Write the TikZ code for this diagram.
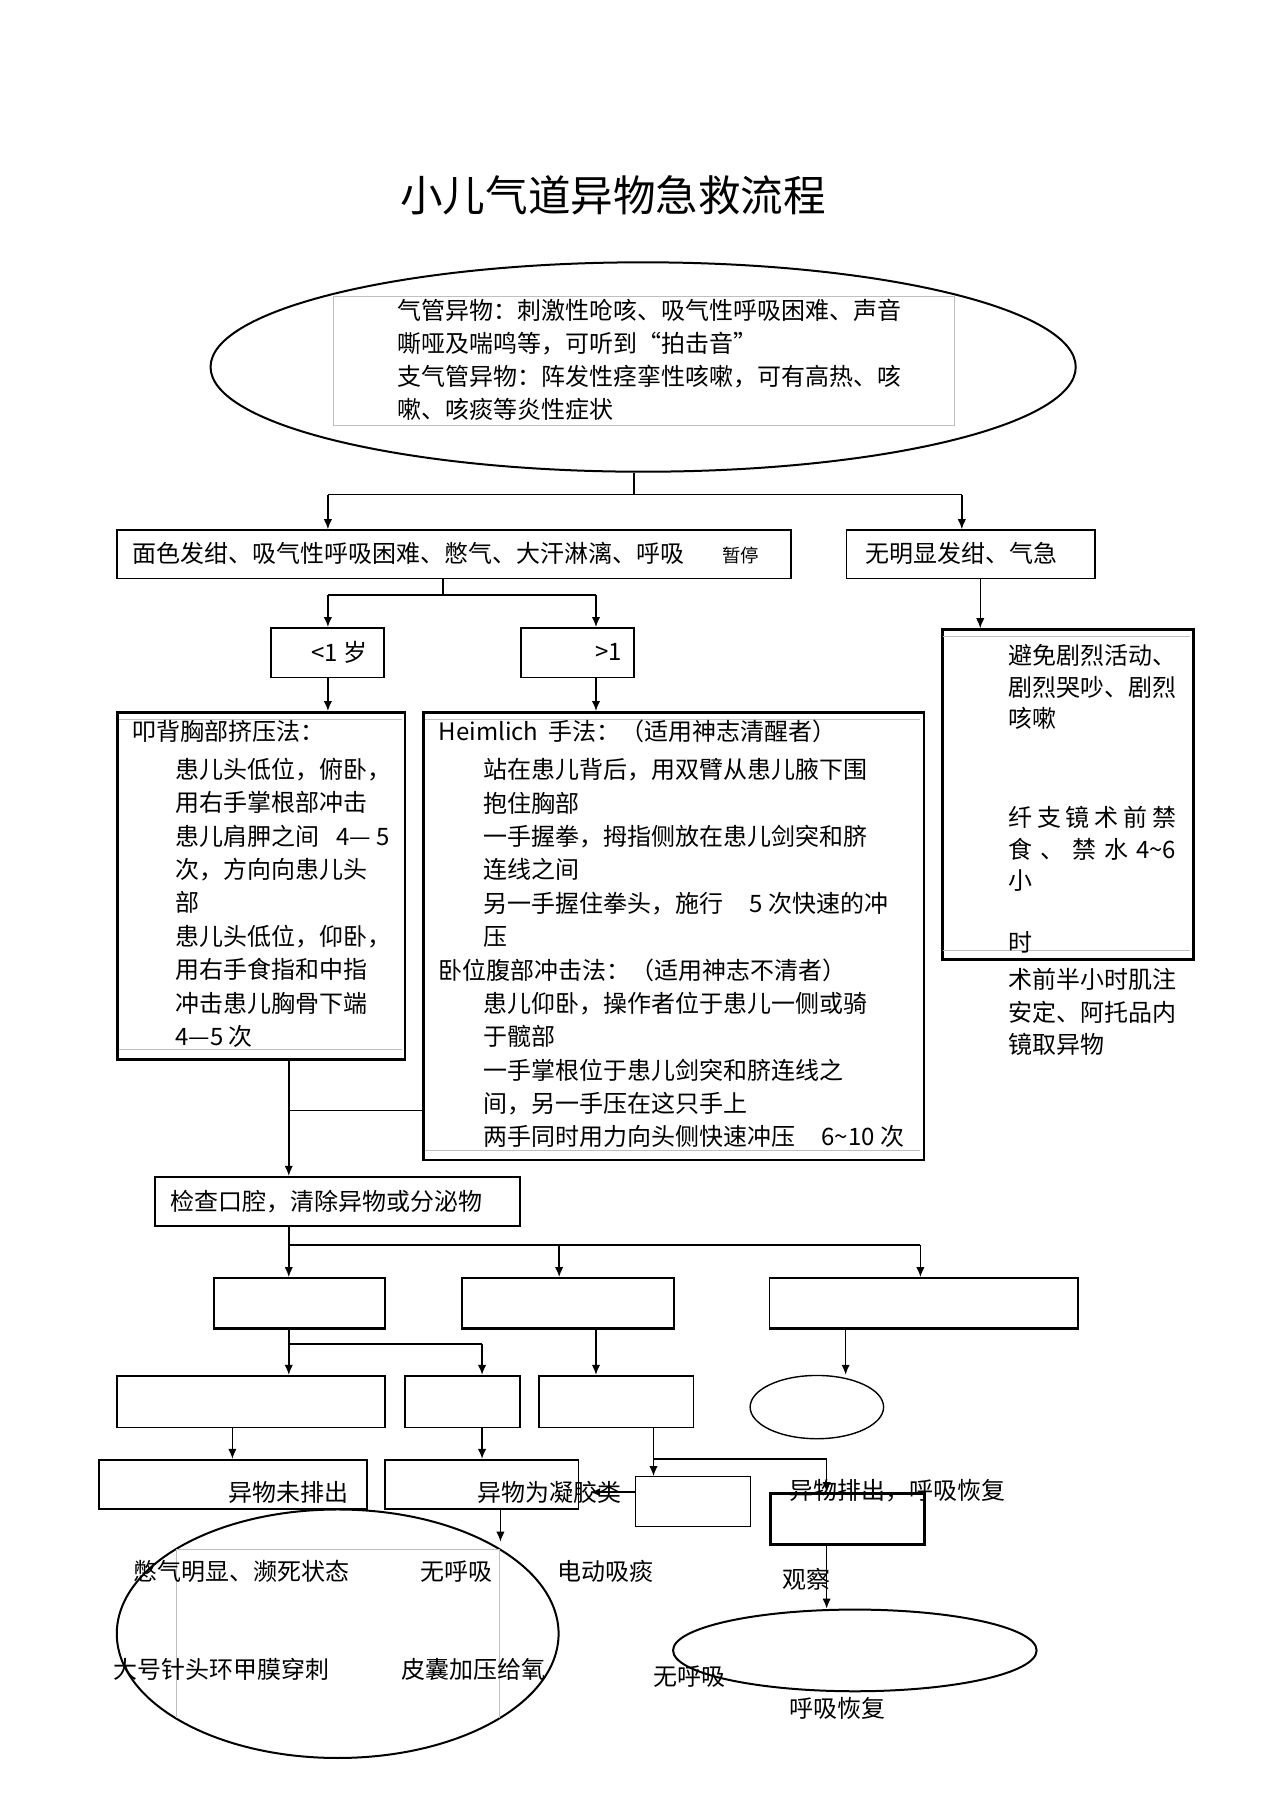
\documentclass[tikz,border=0pt]{standalone}
\usepackage{fontspec}
\setmainfont{Noto Sans CJK SC}
\usetikzlibrary{shapes.geometric,arrows.meta}
\newlength{\upx}
\setlength{\upx}{0.5755pt}

\tikzset{
  box/.style 2 args={draw, line width=0.9pt, inner sep=0, anchor=north west,
    minimum width=#1\upx, minimum height=#2\upx},
  heavy/.style={line width=1.3pt},
  txt/.style={inner sep=0, anchor=west, font=\fontsize{12}{16.7}\selectfont},
  para/.style={txt, anchor=north west, align=left},
  arr/.style={-{Latex[length=5pt,width=4.2pt]}, line width=0.75pt},
  ln/.style={line width=0.75pt},
  faint/.style={draw=black!25, line width=0.5pt},
  oval/.style={draw, ellipse, inner sep=0, line width=1pt},
}

\begin{document}
\begin{tikzpicture}[x=\upx, y=-\upx]
\useasboundingbox (0,0) rectangle (1107,1568);

% title
\node[font=\fontsize{21.3}{25}\selectfont] (title) at (533,170) {小儿气道异物急救流程};

% symptoms
\node[oval, minimum width=752\upx, minimum height=182\upx] (sympt) at (559,319) {};
\draw[faint] (290,258) rectangle (830,370);
\node[para, font=\fontsize{12}{16.5}\selectfont] (symtxt) at (345,259.6)
  {气管异物：刺激性呛咳、吸气性呼吸困难、声音\\
   嘶哑及喘鸣等，可听到“拍击音”\\
   支气管异物：阵发性痉挛性咳嗽，可有高热、咳\\
   嗽、咳痰等炎性症状};

% first level
\node[box={586}{42}] (cyan) at (101,460) {};
\node[txt] (cyantxt) at (115,481)
  {面色发绀、吸气性呼吸困难、憋气、大汗淋漓、呼吸\hspace{19pt}{\fontsize{9.2}{10}\selectfont 暂停}};
\node[box={216}{42}] (mild) at (735,460) {};
\node[txt] (mildtxt) at (752,481) {无明显发绀、气急};

% age
\node[box={98}{43}] (age1) at (235,545) {};
\node[txt] (age1txt) at (270,567) {<1 岁};
\node[box={98}{43}] (age2) at (452,545) {};
\node[txt] (age2txt) at (517,567) {>1};

% methods
\node[box={250}{302}, heavy] (infant) at (101,618) {};
\draw[faint] (103,625) -- (349,625) (103,912) -- (349,912);
\node[para] (infanttxt) at (115,625.6)
  {叩背胸部挤压法：\\[2.3pt]
   \hspace*{21.3pt}患儿头低位，俯卧，\\
   \hspace*{21.3pt}用右手掌根部冲击\\
   \hspace*{21.3pt}患儿肩胛之间\hspace{8.6pt}4— 5\\
   \hspace*{21.3pt}次，方向向患儿头\\
   \hspace*{21.3pt}部\\
   \hspace*{21.3pt}患儿头低位，仰卧，\\
   \hspace*{21.3pt}用右手食指和中指\\
   \hspace*{21.3pt}冲击患儿胸骨下端\\
   \hspace*{21.3pt}4—5 次};

\node[box={435}{389}, heavy] (heim) at (367,618) {};
\draw[faint] (369,625) -- (800,625) (369,1000) -- (800,1000);
\node[para] (heimtxt) at (381,625.6)
  {Heimlich\hspace{5pt}手法：（适用神志清醒者）\\[2.3pt]
   \hspace*{22.4pt}站在患儿背后，用双臂从患儿腋下围\\
   \hspace*{22.4pt}抱住胸部\\
   \hspace*{22.4pt}一手握拳，拇指侧放在患儿剑突和脐\\
   \hspace*{22.4pt}连线之间\\
   \hspace*{22.4pt}另一手握住拳头，施行\hspace{13pt}5 次快速的冲\\
   \hspace*{22.4pt}压\\
   卧位腹部冲击法：（适用神志不清者）\\
   \hspace*{22.4pt}患儿仰卧，操作者位于患儿一侧或骑\\
   \hspace*{22.4pt}于髋部\\
   \hspace*{22.4pt}一手掌根位于患儿剑突和脐连线之\\
   \hspace*{22.4pt}间，另一手压在这只手上\\
   \hspace*{22.4pt}两手同时用力向头侧快速冲压\hspace{13pt}6\textasciitilde 10 次};

\node[box={218}{287}, heavy] (endo) at (818,546) {};
\draw[faint] (820,553) -- (1034,553) (820,826) -- (1034,826);
\node[para, font=\fontsize{12}{15.8}\selectfont] (endotxt) at (876,559.6)
  {避免剧烈活动、\\
   剧烈哭吵、剧烈\\
   咳嗽\\[33.7pt]
   \hbox to 84pt{纤\hfil 支\hfil 镜\hfil 术\hfil 前\hfil 禁}\\
   \hbox to 84pt{食\hfil 、\hfil 禁\hfil 水\hfil 4\textasciitilde 6}\\
   小\\[15.3pt]
   时};
\node[para, font=\fontsize{12}{16.1}\selectfont] (aftertxt) at (876,841.6)
  {术前半小时肌注\\
   安定、阿托品内\\
   镜取异物};

% clearing
\node[box={317}{43}] (mouth) at (134,1022) {};
\node[txt] (mouthtxt) at (148,1044) {检查口腔，清除异物或分泌物};

\node[box={149}{43}] (boxA) at (185,1110) {};
\node[box={184}{43}] (boxB) at (401,1110) {};
\node[box={268}{43}] (boxC) at (668,1110) {};
\foreach \b in {boxA,boxB,boxC}
  \draw[line width=1.8pt] (\b.south west) -- (\b.south east);
\node[oval, line width=0.7pt, minimum width=116\upx, minimum height=55\upx] (oval) at (710,1223) {};

\node[box={233}{45}] (boxD) at (101,1195) {};
\node[box={100}{45}] (boxE) at (351,1195) {};
\node[box={134}{45}] (boxF) at (468,1195) {};

\node[box={233}{43}] (notout) at (85,1268) {};
\node[txt] (notouttxt) at (198,1297) {异物未排出};
\node[box={168}{43}] (gel) at (334,1268) {};
\node[txt] (geltxt) at (415,1297) {异物为凝胶类};
\node[box={100}{43}, line width=0.6pt] (boxG) at (552,1283) {};
\node[box={134}{44}, line width=1.5pt] (boxH) at (668,1297) {};
\node[txt] (outtxt) at (686,1296) {异物排出，呼吸恢复};

% rescue
\node[oval, minimum width=384\upx, minimum height=216\upx] (rescue) at (293.5,1420) {};
\draw[faint] (153,1493) -- (153,1347) -- (434,1347) -- (434,1493);
\node[txt] (gasp) at (116,1366) {憋气明显、濒死状态};
\node[txt] (apnea1) at (365,1366) {无呼吸};
\node[txt] (suction) at (484,1366) {电动吸痰};
\node[txt] (needle) at (98,1451) {大号针头环甲膜穿刺};
\node[txt] (bag) at (349,1451) {皮囊加压给氧};
\node[txt] (watch) at (680,1373) {观察};
\node[oval, minimum width=316\upx, minimum height=71\upx] (recov) at (743,1434.5) {};
\node[txt] (apnea2) at (568,1457) {无呼吸};
\node[txt] (breath) at (686,1485) {呼吸恢复};

% connectors
\coordinate (s0) at (551,430);
\coordinate (sL) at (285,430);
\coordinate (sR) at (836,430);
\draw[ln] (s0 |- sympt.south) -- (s0);
\draw[ln] (sL) -- (sR);
\draw[arr] (sL) -- (sL |- cyan.north);
\draw[arr] (sR) -- (sR |- mild.north);

\coordinate (c0) at (385,517);
\coordinate (cL) at (285,517);
\coordinate (cR) at (518,517);
\draw[ln] (c0 |- cyan.south) -- (c0);
\draw[ln] (cL) -- (cR);
\draw[arr] (cL) -- (cL |- age1.north);
\draw[arr] (cR) -- (cR |- age2.north);
\draw[arr] (cL |- age1.south) -- (cL |- infant.north);
\draw[arr] (cR |- age2.south) -- (cR |- heim.north);
\coordinate (e0) at (852,520);
\draw[arr] (e0 |- mild.south) -- (e0 |- endo.north);

\coordinate (m0) at (251,965);
\draw[arr] (m0 |- infant.south) -- (m0 |- mouth.north);
\draw[ln] (m0) -- (m0 -| heim.west);

\coordinate (t0) at (251,1082);
\coordinate (t1) at (486,1082);
\coordinate (t2) at (800,1082);
\draw[ln] (t0 |- mouth.south) -- (t0) -- (t2);
\draw[arr] (t0) -- (t0 |- boxA.north);
\draw[arr] (t1) -- (t1 |- boxB.north);
\draw[arr] (t2) -- (t2 |- boxC.north);

\coordinate (a0) at (251,1168);
\coordinate (a1) at (419,1168);
\coordinate (b0) at (518,1168);
\coordinate (k0) at (735,1168);
\draw[arr] (a0 |- boxA.south) -- (a0 |- boxD.north);
\draw[ln] (a0) -- (a1);
\draw[arr] (a1) -- (a1 |- boxE.north);
\draw[arr] (b0 |- boxB.south) -- (b0 |- boxF.north);
\draw[arr] (k0 |- boxC.south) -- (k0 |- oval.north);

\coordinate (d0) at (202,1250);
\coordinate (f0) at (568,1268);
\coordinate (f1) at (718.5,1268);
\coordinate (g0) at (513,1297);
\coordinate (r0) at (435,1340);
\draw[arr] (d0 |- boxD.south) -- (d0 |- notout.north);
\draw[arr] (a1 |- boxE.south) -- (a1 |- gel.north);
\draw[ln] (f0 |- boxF.south) -- (f0) -- (f1);
\draw[arr] (f0) -- (f0 |- boxG.north);
\draw[arr] (f1) -- (f1 |- boxH.north);
\draw[arr] (g0 -| boxG.west) -- (g0);
\draw[arr] (r0 |- gel.south) -- (r0);
\draw[arr] (f1 |- boxH.south) -- (f1 |- recov.north);

\end{tikzpicture}
\end{document}
